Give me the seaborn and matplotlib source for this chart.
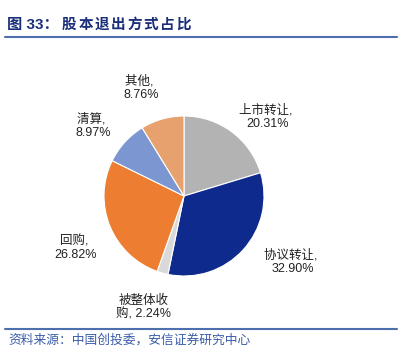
import matplotlib
matplotlib.use('Agg')
import matplotlib.pyplot as plt
import seaborn as sns

sns.set_style("white")
plt.rcParams['font.family'] = ['Liberation Sans', 'Noto Sans CJK SC', 'DejaVu Sans']

# data
names = ["上市转让", "协议转让", "被整体收购", "回购", "清算", "其他"]
shares = [20.31, 32.90, 2.24, 26.82, 8.97, 8.76]
colors = ["#b3b3b3", "#0e2a8c", "#d9d9d9", "#ed7d31", "#7b96d0", "#e6a16f"]

# label centres in pie units (radius = 1)
label_pos = [(1.04, 0.99), (1.36, -0.83), (-0.51, -1.40),
             (-1.35, -0.65), (-1.14, 0.875), (-0.54, 1.35)]

W, H = 404, 364
fig = plt.figure(figsize=(W / 100, H / 100), dpi=100)

# pie centred at (184, 196) px, radius 80 px
ax = fig.add_axes([44 / W, (H - 336) / H, 280 / W, 280 / H])
ax.pie(shares, colors=colors, startangle=90, counterclock=False,
       wedgeprops=dict(linewidth=0.8, edgecolor="white"))
ax.set_xlim(-1.75, 1.75)
ax.set_ylim(-1.75, 1.75)
ax.set_aspect("equal")
ax.axis("off")

for name, val, (lx, ly) in zip(names, shares, label_pos):
    if len(name) > 4:
        txt = "{}\n{}, {:.2f}%".format(name[:4], name[4:], val)
    else:
        txt = "{}, \n{:.2f}%".format(name, val)
    ax.text(lx, ly, txt, ha="center", va="center", fontsize=9,
            color="#222222", linespacing=1.15)

# header: letter-spaced title
fig.text(7 / W, 1 - 25 / H, "图 33：", fontsize=11, fontweight="bold",
         color="#1a2f7a", va="center", ha="left")
for i, ch in enumerate("股本退出方式占比"):
    fig.text((62 + i * 16.3) / W, 1 - 25 / H, ch, fontsize=10.5,
             fontweight="bold", color="#1a2f7a", va="center", ha="left")
fig.add_artist(plt.Line2D([5 / W, 397 / W], [1 - 37 / H, 1 - 37 / H],
                          color="#4e6fae", linewidth=1.5))

# footer
fig.add_artist(plt.Line2D([5 / W, 397 / W], [1 - 329 / H, 1 - 329 / H],
                          color="#4e6fae", linewidth=1.5))
fig.text(8 / W, 1 - 340 / H, "资料来源：中国创投委，安信证券研究中心", fontsize=9.2,
         style="italic", color="#3a5ca8", va="center", ha="left")

fig.savefig("out.png", dpi=100)
